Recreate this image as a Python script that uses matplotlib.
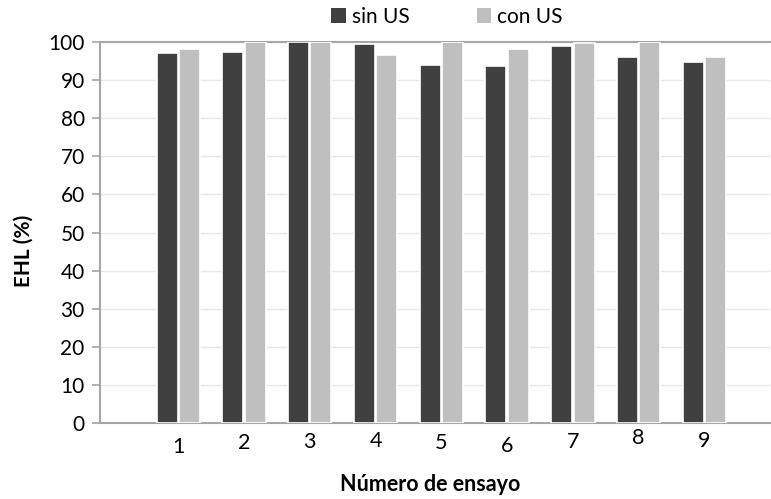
import matplotlib
matplotlib.use("Agg")
import matplotlib.pyplot as plt
import numpy as np
from matplotlib.transforms import ScaledTranslation

# Trial numbers and EHL (%) for each condition
ensayos = [1, 2, 3, 4, 5, 6, 7, 8, 9]
sin_us = [97.2, 97.5, 100.0, 99.6, 94.0, 93.6, 99.0, 96.0, 94.8]
con_us = [98.2, 100.0, 100.0, 96.6, 100.0, 98.2, 99.8, 100.0, 96.1]
y_ticks = list(range(0, 101, 10))

# small vertical nudges (points) of the category labels
label_nudge = [4.0, 1.5, 0.8, -0.5, 1.5, 3.5, 0.5, -2.5, 0.0]

plt.rcParams['font.family'] = ['Lato', 'DejaVu Sans']

DARK = '#404040'
LIGHT = '#bfbfbf'
AXIS = '#a6a6a6'
GRID = '#e8e8e8'

fig = plt.figure(figsize=(7.71, 4.99), dpi=100)
ax = fig.add_axes([0.1297, 0.1523, 0.8692, 0.7635])

x = np.array(ensayos, dtype=float)
w = 0.32
off = 0.17
ax.bar(x - off, sin_us, width=w, color=DARK, edgecolor='white', linewidth=1.2,
       label='sin US', zorder=3)
ax.bar(x + off, con_us, width=w, color=LIGHT, edgecolor='white', linewidth=1.2,
       label='con US', zorder=3)

ax.set_xlim(-0.19, 10.0)
ax.set_ylim(0, 100)
ax.set_yticks(y_ticks)
ax.set_xticks(x)
ax.set_xticklabels([str(e) for e in ensayos])

ax.yaxis.grid(True, color=GRID, linewidth=1.0, zorder=0)
ax.set_axisbelow(True)

ax.spines['right'].set_visible(False)
for s in ['left', 'bottom', 'top']:
    ax.spines[s].set_color(AXIS)
    ax.spines[s].set_linewidth(1.5)

ax.tick_params(axis='y', length=6, width=1.2, color=AXIS, labelsize=15,
               labelcolor='black', pad=5)
ax.tick_params(axis='x', length=0, labelsize=15.5, labelcolor='black', pad=6)

for lbl, dy in zip(ax.get_xticklabels(), label_nudge):
    lbl.set_transform(lbl.get_transform() +
                      ScaledTranslation(0, -dy / 72, fig.dpi_scale_trans))

fig.text(0.5584, 0.030, 'Número de ensayo', fontsize=15.5, fontweight='bold',
         ha='center', va='center')
fig.text(0.031, 0.497, 'EHL (%)', rotation=90, fontsize=15, fontweight='bold',
         ha='center', va='center')

leg = fig.legend(loc='center', bbox_to_anchor=(0.58, 0.966), ncol=2, frameon=False,
                 fontsize=15, handlelength=0.7, handleheight=0.7,
                 handletextpad=0.3, columnspacing=3.2)
for h in leg.legend_handles:
    h.set_edgecolor('none')

fig.savefig('out.png', dpi=100)
